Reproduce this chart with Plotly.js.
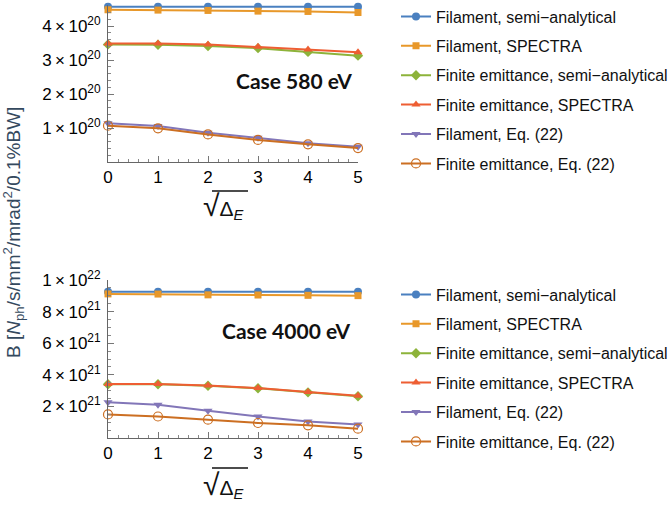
<!DOCTYPE html>
<html><head><meta charset="utf-8">
<script src="https://cdn.plot.ly/plotly-3.0.1.min.js"></script>
<style>body{margin:0;background:#fff}</style></head>
<body><div id="chart" style="width:669px;height:507px"></div>
<script>
// sqrt(Delta_E) values
const xVals = [0, 1, 2, 3, 4, 5];
const seriesNames = [
  "Filament, semi\u2212analytical",
  "Filament, SPECTRA",
  "Finite emittance, semi\u2212analytical",
  "Finite emittance, SPECTRA",
  "Filament, Eq. (22)",
  "Finite emittance, Eq. (22)"
];
// Case 580 eV
const filSemi580 = [4.57e20, 4.57e20, 4.57e20, 4.57e20, 4.57e20, 4.57e20];
const filSpec580 = [4.48e20, 4.47e20, 4.46e20, 4.44e20, 4.43e20, 4.40e20];
const finSemi580 = [3.46e20, 3.45e20, 3.41e20, 3.35e20, 3.24e20, 3.13e20];
const finSpec580 = [3.49e20, 3.49e20, 3.46e20, 3.39e20, 3.31e20, 3.23e20];
const filEq580   = [1.14e20, 1.06e20, 0.86e20, 0.71e20, 0.55e20, 0.45e20];
const finEq580   = [1.07e20, 0.99e20, 0.81e20, 0.65e20, 0.52e20, 0.41e20];
// Case 4000 eV
const filSemi4000 = [9.26e21, 9.26e21, 9.26e21, 9.26e21, 9.26e21, 9.26e21];
const filSpec4000 = [9.12e21, 9.11e21, 9.06e21, 9.05e21, 9.03e21, 9.01e21];
const finSemi4000 = [3.40e21, 3.40e21, 3.31e21, 3.15e21, 2.89e21, 2.64e21];
const finSpec4000 = [3.41e21, 3.41e21, 3.32e21, 3.16e21, 2.91e21, 2.67e21];
const filEq4000   = [2.27e21, 2.10e21, 1.72e21, 1.36e21, 1.05e21, 0.86e21];
const finEq4000   = [1.49e21, 1.36e21, 1.16e21, 0.95e21, 0.80e21, 0.59e21];
// tick labels
const yTicks580 = [1e20, 2e20, 3e20, 4e20];
const yTickText580 = ["1\u2009\u00d7\u200910<sup>20</sup>", "2\u2009\u00d7\u200910<sup>20</sup>", "3\u2009\u00d7\u200910<sup>20</sup>", "4\u2009\u00d7\u200910<sup>20</sup>"];
const yTicks4000 = [2e21, 4e21, 6e21, 8e21, 1e22];
const yTickText4000 = ["2\u2009\u00d7\u200910<sup>21</sup>", "4\u2009\u00d7\u200910<sup>21</sup>", "6\u2009\u00d7\u200910<sup>21</sup>", "8\u2009\u00d7\u200910<sup>21</sup>", "1\u2009\u00d7\u200910<sup>22</sup>"];
const xTitleText = "<span style=\"font-size:30px\">\u221a</span>\u0394<sub><i>E</i></sub>";

const colors = ["#4a80c0", "#e8982a", "#8db33a", "#ee5e33", "#8276b8", "#cc6f22"];
const symbols = ["circle", "square", "diamond", "triangle-up", "triangle-down", "circle-open"];
const msizes = [8, 7, 8, 8, 8, 9];

const data580 = [filSemi580, filSpec580, finSemi580, finSpec580, filEq580, finEq580];
const data4000 = [filSemi4000, filSpec4000, finSemi4000, finSpec4000, filEq4000, finEq4000];

const traces = [];
data580.forEach((ys, i) => traces.push({
  x: xVals, y: ys, type: "scatter", mode: "lines+markers", name: seriesNames[i],
  xaxis: "x", yaxis: "y", legend: "legend", legendgroup: "a" + i, cliponaxis: false,
  line: {color: colors[i], width: 2},
  marker: {symbol: symbols[i], size: msizes[i], color: colors[i], line: {color: colors[i], width: i === 5 ? 1.2 : 0}}
}));
data4000.forEach((ys, i) => traces.push({
  x: xVals, y: ys, type: "scatter", mode: "lines+markers", name: seriesNames[i],
  xaxis: "x2", yaxis: "y2", legend: "legend2", legendgroup: "b" + i, cliponaxis: false,
  line: {color: colors[i], width: 2},
  marker: {symbol: symbols[i], size: msizes[i], color: colors[i], line: {color: colors[i], width: i === 5 ? 1.2 : 0}}
}));

const FONT = "'Liberation Sans', Arial, sans-serif";
const L = 108, PW = 250, B0 = 438, PH = 433;
const px = v => (v - L) / PW;
const py = v => (B0 - v) / PH;

const xAxisCommon = {
  range: [0, 5], tickmode: "linear", tick0: 0, dtick: 1, ticks: "inside", ticklen: 6,
  tickcolor: "#777", tickwidth: 1, showline: true, linecolor: "#666", linewidth: 1,
  showgrid: false, zeroline: false, tickfont: {size: 17, family: FONT, color: "#000"},
  minor: {tickmode: "linear", tick0: 0, dtick: 0.2, ticks: "inside", ticklen: 3, tickcolor: "#888"}
};
const yAxisCommon = {
  tickmode: "array", ticks: "inside", ticklen: 6, tickcolor: "#777", tickwidth: 1,
  showline: true, linecolor: "#666", linewidth: 1, showgrid: false, zeroline: false,
  tickfont: {size: 17, family: FONT, color: "#000"}, ticklabelstandoff: 3
};

const layout = {
  width: 669, height: 507, paper_bgcolor: "#fff", plot_bgcolor: "#fff",
  margin: {l: L, r: 669 - L - PW, t: 5, b: 507 - B0, autoexpand: false},
  font: {family: FONT, color: "#000"},
  xaxis: Object.assign({}, xAxisCommon, {anchor: "y", domain: [0, 1]}),
  xaxis2: Object.assign({}, xAxisCommon, {anchor: "y2", domain: [0, 1]}),
  yaxis: Object.assign({}, yAxisCommon, {anchor: "x", domain: [py(162), 1], range: [0, 4.62e20],
    tickvals: yTicks580, ticktext: yTickText580,
    minor: {tickmode: "linear", tick0: 0, dtick: 2e19, ticks: "inside", ticklen: 3, tickcolor: "#888"}}),
  yaxis2: Object.assign({}, yAxisCommon, {anchor: "x2", domain: [0, py(280)], range: [0, 1e22],
    tickvals: yTicks4000, ticktext: yTickText4000,
    minor: {tickmode: "linear", tick0: 0, dtick: 5e20, ticks: "inside", ticklen: 3, tickcolor: "#888"}}),
  legend: {x: px(396), y: py(-0.5), xanchor: "left", yanchor: "top", font: {size: 16, family: FONT, color: "#111"},
    tracegroupgap: 5.6, bgcolor: "rgba(0,0,0,0)"},
  legend2: {x: px(396), y: py(277.5), xanchor: "left", yanchor: "top", font: {size: 16, family: FONT, color: "#111"},
    tracegroupgap: 5.6, bgcolor: "rgba(0,0,0,0)"},
  annotations: [
    {text: "B [<i>N</i><sub>ph</sub>/s/mm<sup>2</sup>/mrad<sup>2</sup>/0.1%BW]", xref: "paper", yref: "paper",
     x: px(13), y: py(233), xanchor: "center", yanchor: "middle", textangle: -90, showarrow: false,
     font: {size: 19, family: FONT, color: "#34495e"}},
    {text: "<b>Case 580 eV</b>", xref: "paper", yref: "paper", x: px(294), y: py(80), showarrow: false,
     xanchor: "center", yanchor: "middle", font: {size: 21, family: "Lato, 'Open Sans', sans-serif", color: "#111"}},
    {text: "<b>Case 4000 eV</b>", xref: "paper", yref: "paper", x: px(286), y: py(330), showarrow: false,
     xanchor: "center", yanchor: "middle", font: {size: 21, family: "Lato, 'Open Sans', sans-serif", color: "#111"}},
    {text: xTitleText, xref: "paper", yref: "paper", x: px(223), y: py(206), showarrow: false,
     xanchor: "center", yanchor: "middle", font: {size: 21, family: FONT, color: "#111"}},
    {text: xTitleText, xref: "paper", yref: "paper", x: px(223), y: py(485), showarrow: false,
     xanchor: "center", yanchor: "middle", font: {size: 21, family: FONT, color: "#111"}}
  ],
  shapes: [
    {type: "line", xref: "paper", yref: "paper", x0: px(212), x1: px(248), y0: py(191), y1: py(191), line: {color: "#111", width: 1.5}},
    {type: "line", xref: "paper", yref: "paper", x0: px(212), x1: px(248), y0: py(468), y1: py(468), line: {color: "#111", width: 1.5}}
  ]
};

Plotly.newPlot("chart", traces, layout, {staticPlot: true, displayModeBar: false});
</script></body></html>
